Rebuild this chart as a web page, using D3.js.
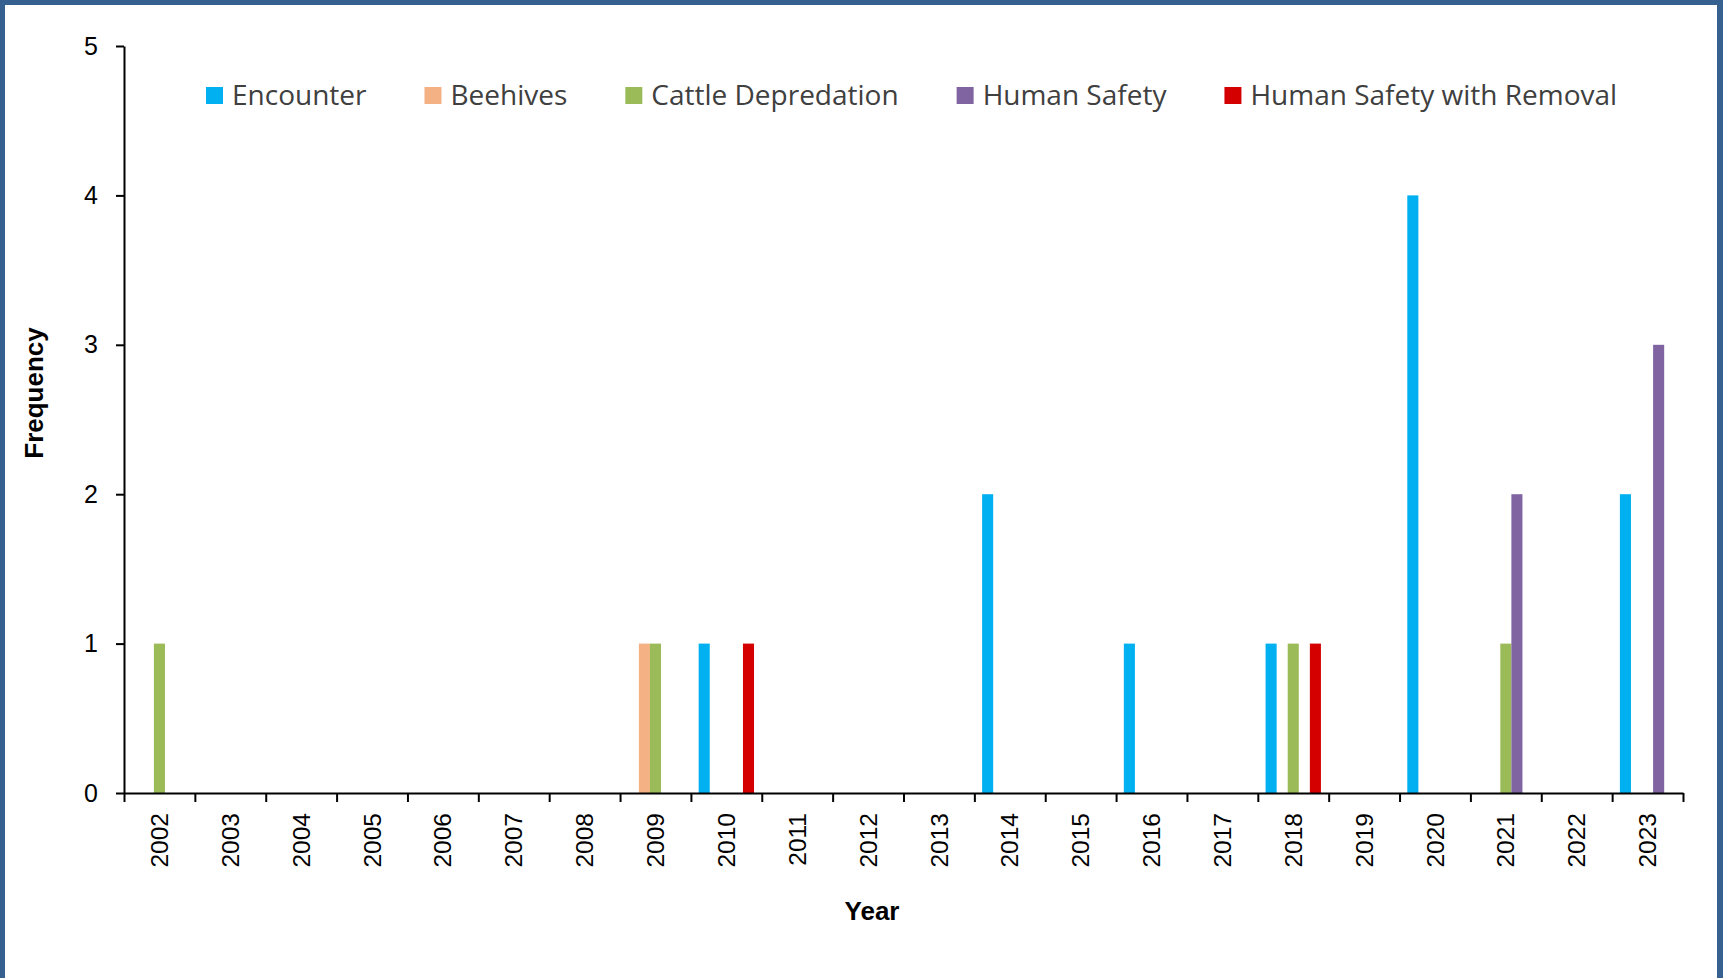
<!DOCTYPE html>
<html>
<head>
<meta charset="utf-8">
<script src="https://cdn.jsdelivr.net/npm/d3@7"></script>
<style>
  body { margin: 0; overflow: hidden; background: #fff; }
  text { font-family: "Liberation Sans", Arial, sans-serif; }
  .legend text { font-family: "Open Sans", sans-serif; }
</style>
</head>
<body>
<svg id="chart"></svg>
<script>
var years = ['2002','2003','2004','2005','2006','2007','2008','2009','2010','2011','2012',
             '2013','2014','2015','2016','2017','2018','2019','2020','2021','2022','2023'];
var seriesNames = ['Encounter','Beehives','Cattle Depredation','Human Safety','Human Safety with Removal'];
var seriesColors = ['#00b0f0','#f4b183','#9bbb59','#8064a2','#d40000'];

// one value per year, 2002 .. 2023
var encounter    = [0,0,0,0,0,0,0,0,1,0,0,0,2,0,1,0,1,0,4,0,0,2];
var beehives     = [0,0,0,0,0,0,0,1,0,0,0,0,0,0,0,0,0,0,0,0,0,0];
var cattle       = [1,0,0,0,0,0,0,1,0,0,0,0,0,0,0,0,1,0,0,1,0,0];
var humanSafety  = [0,0,0,0,0,0,0,0,0,0,0,0,0,0,0,0,0,0,0,2,0,3];
var humanRemoval = [0,0,0,0,0,0,0,0,1,0,0,0,0,0,0,0,1,0,0,0,0,0];
var yTicks = [0,1,2,3,4,5];

var seriesValues = [encounter, beehives, cattle, humanSafety, humanRemoval];

var W = 1723, H = 978;
var plot = {left: 124, right: 1683, top: 46, bottom: 793};

var svg = d3.select('#chart').attr('width', W).attr('height', H);

// frame
svg.append('rect').attr('width', W).attr('height', H).attr('fill', '#36608f');
svg.append('rect').attr('x', 5).attr('y', 5).attr('width', W - 11).attr('height', H + 20).attr('fill', '#fff');

var x0 = d3.scaleBand().domain(years).range([plot.left, plot.right]).padding(0);
var x1 = d3.scaleBand().domain(seriesNames).range([0, x0.bandwidth()]).paddingInner(0).paddingOuter(0.7);
var xEdges = d3.scaleLinear().domain([0, years.length]).range([plot.left, plot.right]);
var y = d3.scaleLinear().domain([0, 5]).range([plot.bottom, plot.top]);

// bars
var rows = [];
seriesNames.forEach(function(name, i) {
    seriesValues[i].forEach(function(v, j) {
        if (v > 0) rows.push({series: name, color: seriesColors[i], year: years[j], value: v});
    });
});

svg.append('g').selectAll('rect')
    .data(rows)
    .enter().append('rect')
        .attr('x', function(d) { return x0(d.year) + x1(d.series); })
        .attr('width', x1.bandwidth())
        .attr('y', function(d) { return y(d.value); })
        .attr('height', function(d) { return y(0) - y(d.value); })
        .attr('fill', function(d) { return d.color; });

// y axis
var yAxis = svg.append('g')
    .attr('transform', 'translate(' + plot.left + ',0)')
    .call(d3.axisLeft(y).tickValues(yTicks).tickFormat(d3.format('d'))
        .tickSize(8).tickSizeOuter(0).tickPadding(18));
yAxis.selectAll('text').attr('font-size', 25).attr('fill', '#000')
    .style('font-family', '"Liberation Sans", Arial, sans-serif');

// x axis: boundary ticks
var xAxis = svg.append('g')
    .attr('transform', 'translate(0,' + plot.bottom + ')')
    .call(d3.axisBottom(xEdges).tickValues(d3.range(years.length + 1)).tickSize(9).tickSizeOuter(0).tickFormat(''));

// x labels
var xLab = svg.append('g')
    .attr('transform', 'translate(0,' + plot.bottom + ')')
    .call(d3.axisBottom(x0).tickSize(0).tickSizeOuter(0));
xLab.select('.domain').remove();
xLab.selectAll('text')
    .attr('transform', 'rotate(-90)')
    .attr('text-anchor', 'end')
    .attr('x', -20)
    .attr('y', 0)
    .attr('dy', '0.35em')
    .attr('font-size', 24.5)
    .attr('fill', '#000')
    .style('font-family', '"Liberation Sans", Arial, sans-serif');

svg.selectAll('.domain, .tick line').attr('stroke', '#000').attr('stroke-width', 2);

// axis titles
svg.append('text')
    .attr('transform', 'translate(43,393) rotate(-90)')
    .attr('text-anchor', 'middle')
    .attr('font-size', 26)
    .attr('font-weight', 'bold')
    .text('Frequency');

svg.append('text')
    .attr('x', 872).attr('y', 920)
    .attr('text-anchor', 'middle')
    .attr('font-size', 26)
    .attr('font-weight', 'bold')
    .text('Year');

// legend
var legend = svg.append('g').attr('class', 'legend');
var lx = 206;
seriesNames.forEach(function(name, i) {
    var item = legend.append('g').attr('transform', 'translate(' + lx + ',0)');
    item.append('rect').attr('x', 0).attr('y', 87).attr('width', 17).attr('height', 17).attr('fill', seriesColors[i]);
    var t = item.append('text').attr('x', 26).attr('y', 105)
        .attr('font-size', 28).attr('fill', '#404040').text(name);
    lx += 26 + t.node().getComputedTextLength() + 58;
});
</script>
</body>
</html>
